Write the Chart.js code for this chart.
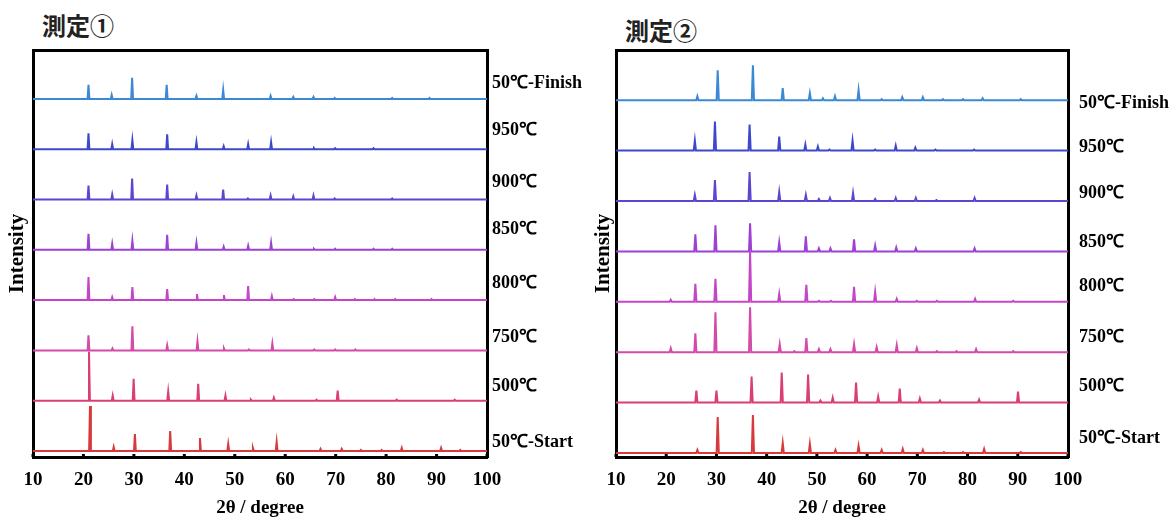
<!DOCTYPE html>
<html>
<head>
<meta charset="utf-8">
<script src="https://cdn.jsdelivr.net/npm/chart.js@4.4.0/dist/chart.umd.min.js"></script>
<style>
  body { margin: 0; background: #fff; width: 1173px; height: 518px; position: relative; overflow: hidden; }
  canvas { position: absolute; top: 0; }
  .panelTitle { position: absolute; font-family: "Noto Sans CJK JP", sans-serif; font-weight: 700; font-size: 24px; line-height: 24px; color: #222; }
</style>
</head>
<body>
<div class="panelTitle" style="left:42px;top:13px">測定①</div>
<div class="panelTitle" style="left:625px;top:18px">測定②</div>
<canvas id="chart1" width="586" height="518" style="left:0"></canvas>
<canvas id="chart2" width="587" height="518" style="left:586px"></canvas>
<script>
// bottom to top
const sampleLabels = ['50℃-Start', '500℃', '750℃', '800℃', '850℃', '900℃', '950℃', '50℃-Finish'];
const lineColors = ['#d8393c', '#d93e74', '#d44aa8', '#c545c9', '#9c41d4', '#5c45d0', '#3d48cc', '#3b88d6'];
const xTicks = [10, 20, 30, 40, 50, 60, 70, 80, 90, 100];

// 測定① peaks: [2θ, intensity]
const m1Start = [[21.3,45],[26.0,4],[30.2,17],[37.2,20],[43.1,13],[48.7,7],[53.6,3],[58.3,9],[67.0,2],[71.2,2],[75.0,1],[79.1,1],[83.1,3],[90.9,3],[94.7,1]];
const m1T500 = [[21.1,49],[25.8,5],[29.95,22],[36.8,9],[42.75,17],[48.15,5],[53.2,1],[57.75,3],[66.2,1],[70.4,10],[82.1,1],[93.6,1]];
const m1T750 = [[21.0,15],[25.75,2],[29.7,24],[36.6,5],[42.6,9],[47.85,2],[52.8,1],[57.45,7],[65.75,1],[69.9,1],[73.9,1]];
const m1T800 = [[21.0,23],[25.7,3],[29.7,13],[36.6,11],[42.5,6],[47.85,5],[52.65,14],[57.35,4],[61.7,1],[65.75,1],[69.9,3],[73.8,1],[77.7,1],[81.8,1],[89.0,1]];
const m1T850 = [[21.0,16],[25.7,6],[29.7,9],[36.6,15],[42.4,7],[47.8,3],[52.65,4],[57.2,7],[65.7,1],[69.9,1],[77.5,1],[81.2,1]];
const m1T900 = [[21.0,14],[25.7,5],[29.65,21],[36.6,15],[42.4,4],[47.7,10],[52.6,1],[57.1,4],[61.6,3],[65.6,4],[69.8,1],[81.2,1]];
const m1T950 = [[21.0,16],[25.7,5],[29.7,9],[36.6,15],[42.4,7],[47.8,3],[52.65,5],[57.2,7],[65.7,1],[69.9,1],[77.5,1]];
const m1Finish = [[21.0,14],[25.6,4],[29.65,21],[36.5,14],[42.4,3],[47.7,9],[57.1,3],[61.6,2],[65.6,2],[69.8,1],[81.2,1],[88.6,1]];

// 測定② peaks: [2θ, intensity]
const m2Start = [[26.2,3],[30.25,36],[37.26,38],[43.2,10],[48.6,9],[53.7,3],[58.3,7],[62.9,3],[67.1,4],[71.1,3],[75.3,1],[79.1,1],[83.3,4],[90.6,1]];
const m2T500 = [[26.0,12],[30.0,12],[37.0,26],[43.0,30],[48.25,28],[50.7,2],[53.15,5],[57.8,20],[62.2,6],[66.5,14],[70.5,4],[74.5,2],[82.3,3],[90.05,11]];
const m2T750 = [[20.9,4],[25.8,19],[29.8,40],[36.7,45],[42.6,8],[45.5,1],[47.9,14],[50.4,3],[52.7,3],[57.4,8],[61.9,5],[65.9,7],[69.9,4],[73.9,1],[77.8,1],[81.7,3],[89.1,1]];
const m2T800 = [[20.9,2],[25.8,18],[29.8,23],[36.7,50],[42.5,8],[47.9,17],[50.4,1],[52.8,1],[57.4,15],[61.6,10],[65.9,3],[69.9,1],[73.9,1],[81.5,3],[89.1,1]];
const m2T850 = [[25.8,17],[29.8,26],[36.7,28],[42.5,9],[47.8,15],[50.4,3],[52.7,3],[57.4,12],[61.6,6],[65.8,4],[69.7,3],[81.4,3]];
const m2T900 = [[25.7,6],[29.7,21],[36.6,29],[42.5,9],[47.8,6],[50.4,2],[52.6,3],[57.2,8],[61.6,2],[65.7,3],[69.7,3],[73.8,1],[81.4,3]];
const m2T950 = [[25.7,10],[29.7,29],[36.6,26],[42.5,14],[47.7,6],[50.2,4],[52.5,1],[57.1,10],[61.6,1],[65.7,5],[69.6,3],[73.6,1],[81.3,1]];
const m2Finish = [[26.2,4],[30.25,30],[37.26,35],[43.2,12],[48.6,7],[51.2,2],[53.6,4],[58.3,10],[62.9,1],[67.0,3],[71.1,3],[75.1,1],[79.1,1],[83.0,2],[90.6,1]];

const serif = '"Liberation Serif", "Times New Roman", serif';

function peakPoints(peaks, base, halfWidth) {
  const pts = [{x: 10, y: base}];
  peaks.forEach(([pos, h]) => {
    pts.push({x: pos - halfWidth, y: base}, {x: pos, y: base + h}, {x: pos + halfWidth, y: base});
  });
  pts.push({x: 100, y: base});
  return pts;
}

// short inward tick marks on the bottom axis
const innerTicks = {
  id: 'innerTicks',
  afterDraw(chart) {
    const {ctx, chartArea, scales} = chart;
    ctx.save();
    ctx.strokeStyle = '#000';
    ctx.lineWidth = 3;
    xTicks.forEach(v => {
      const px = scales.x.getPixelForValue(v);
      ctx.beginPath();
      ctx.moveTo(px, chartArea.bottom);
      ctx.lineTo(px, chartArea.bottom - 3);
      ctx.stroke();
    });
    ctx.restore();
  }
};

function makeChart(id, series, lay) {
  const canvas = document.getElementById(id);
  const yMax = lay.bottom - lay.top;
  const baseOf = i => lay.base + i * lay.step;
  const frame = {display: true, color: '#000', width: 3};

  return new Chart(canvas.getContext('2d'), {
    type: 'line',
    data: {
      datasets: series.map((peaks, i) => ({
        label: sampleLabels[i],
        data: peakPoints(peaks, baseOf(i), lay.halfWidth),
        borderColor: lineColors[i],
        borderWidth: 2,
        pointRadius: 0,
        tension: 0,
        fill: false
      }))
    },
    options: {
      responsive: false,
      animation: false,
      events: [],
      layout: {padding: 0, autoPadding: false},
      plugins: {legend: {display: false}, tooltip: {enabled: false}},
      scales: {
        x: {
          type: 'linear', position: 'bottom', min: 10, max: 100,
          afterBuildTicks: s => { s.ticks = xTicks.map(v => ({value: v})); },
          ticks: {color: '#000', padding: 12, autoSkip: false, maxRotation: 0, font: {family: serif, size: 19, weight: 'bold'}},
          grid: {display: false, drawTicks: false},
          border: frame,
          title: {display: true, text: '2θ / degree', color: '#000', padding: {top: 0, bottom: 0},
                  font: {family: serif, size: 19, weight: 'bold', lineHeight: 1}},
          afterFit: s => { s.height = canvas.height - lay.bottom; }
        },
        xTop: {
          type: 'linear', position: 'top', min: 10, max: 100,
          ticks: {display: false},
          grid: {display: false, drawTicks: false},
          border: frame,
          afterFit: s => { s.height = lay.top; }
        },
        y: {
          type: 'linear', position: 'left', min: 0, max: yMax,
          ticks: {display: false},
          grid: {display: false, drawTicks: false},
          border: frame,
          title: {display: true, text: 'Intensity', color: '#000', padding: {top: lay.titlePad, bottom: 0},
                  font: {family: serif, size: 21, weight: 'bold', lineHeight: 1}},
          afterFit: s => { s.width = lay.left; }
        },
        yRight: {
          type: 'linear', position: 'right', min: 0, max: yMax,
          afterBuildTicks: s => { s.ticks = sampleLabels.map((_, i) => ({value: baseOf(i) + lay.lifts[i]})); },
          ticks: {
            color: '#000', padding: lay.labelPad, autoSkip: false,
            font: {family: serif, size: 18, weight: 'bold'},
            callback: (v, i) => sampleLabels[i]
          },
          grid: {display: false, drawTicks: false},
          border: frame,
          afterFit: s => { s.width = canvas.width - lay.right; }
        }
      }
    },
    plugins: [innerTicks]
  });
}

makeChart('chart1', [m1Start, m1T500, m1T750, m1T800, m1T850, m1T900, m1T950, m1Finish], {
  left: 33, right: 487, top: 50, bottom: 457,
  base: 6, step: 50.3, halfWidth: 0.18,
  lifts: [9, 14, 13, 17, 20, 17, 19, 16],
  labelPad: 5, titlePad: 7
});

makeChart('chart2', [m2Start, m2T500, m2T750, m2T800, m2T850, m2T900, m2T950, m2Finish], {
  left: 30, right: 482, top: 50, bottom: 457,
  base: 4, step: 50.4, halfWidth: 0.22,
  lifts: [15, 16, 15, 15, 9, 8, 3, -3],
  labelPad: 11, titlePad: 7
});
</script>
</body>
</html>
